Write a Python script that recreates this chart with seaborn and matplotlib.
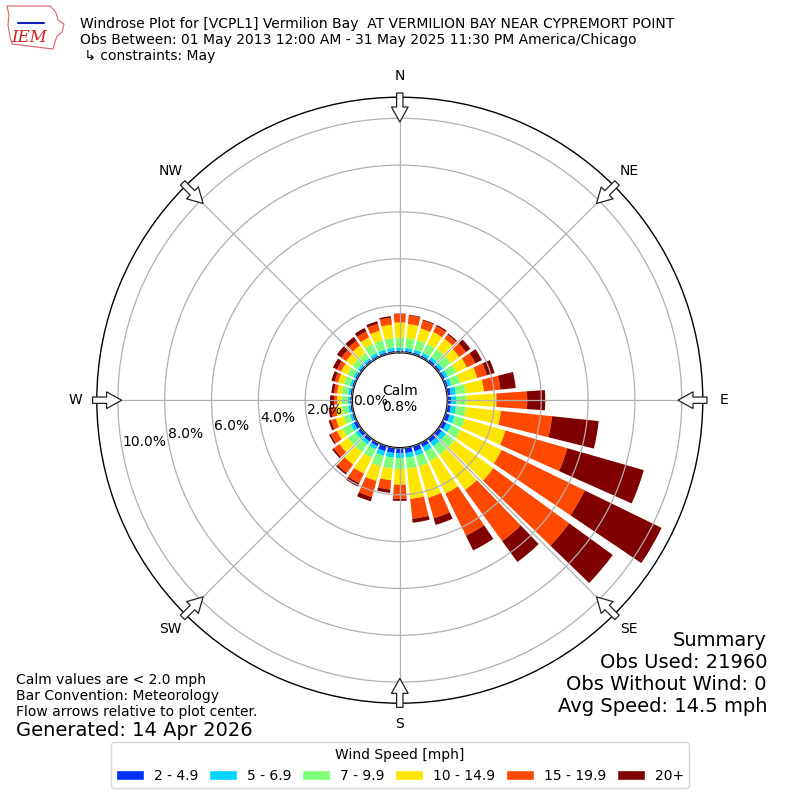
import numpy as np
import matplotlib
matplotlib.use('Agg')
import matplotlib.pyplot as plt
import seaborn as sns
from matplotlib.patches import Patch, Polygon
from matplotlib.lines import Line2D

# Wind directions (deg, meteorological) and speed bins
directions = np.arange(0, 360, 10)
speed_bins = ['2 - 4.9', '5 - 6.9', '7 - 9.9', '10 - 14.9', '15 - 19.9', '20+']
bin_colors = ['#0030ff', '#00d4ff', '#7dff7a', '#ffe600', '#ff4800', '#800000']

pct_2_5 = [0.08, 0.08, 0.08, 0.08, 0.10, 0.10, 0.10, 0.10, 0.15, 0.15, 0.15, 0.18,
           0.18, 0.18, 0.18, 0.18, 0.23, 0.23, 0.23, 0.23, 0.23, 0.15, 0.15, 0.15,
           0.15, 0.08, 0.08, 0.08, 0.08, 0.08, 0.08, 0.08, 0.08, 0.08, 0.08, 0.08]
pct_5_7 = [0.13, 0.13, 0.13, 0.13, 0.15, 0.15, 0.15, 0.15, 0.22, 0.22, 0.22, 0.22,
           0.22, 0.22, 0.22, 0.22, 0.20, 0.20, 0.20, 0.20, 0.20, 0.15, 0.15, 0.15,
           0.15, 0.10, 0.10, 0.10, 0.10, 0.10, 0.10, 0.10, 0.10, 0.13, 0.13, 0.13]
pct_7_10 = [0.42, 0.42, 0.42, 0.42, 0.40, 0.40, 0.40, 0.40, 0.43, 0.43, 0.43, 0.45,
            0.45, 0.45, 0.45, 0.45, 0.47, 0.47, 0.47, 0.47, 0.47, 0.40, 0.40, 0.40,
            0.40, 0.27, 0.27, 0.27, 0.27, 0.27, 0.27, 0.27, 0.27, 0.42, 0.42, 0.42]
pct_10_15 = [0.65, 0.60, 0.52, 0.57, 0.55, 0.45, 0.50, 0.75, 0.77, 1.29, 1.50, 1.80,
             1.95, 2.05, 1.85, 1.55, 1.40, 1.30, 0.67, 0.50, 0.65, 0.75, 0.65, 0.45,
             0.25, 0.35, 0.25, 0.19, 0.20, 0.25, 0.30, 0.35, 0.40, 0.32, 0.42, 0.57]
pct_15_20 = [0.36, 0.37, 0.35, 0.28, 0.22, 0.35, 0.40, 0.43, 0.71, 1.31, 2.20, 2.75,
             3.95, 4.00, 2.70, 2.00, 0.90, 0.85, 0.60, 0.40, 0.71, 0.45, 0.45, 0.30,
             0.30, 0.22, 0.20, 0.13, 0.13, 0.15, 0.20, 0.25, 0.25, 0.27, 0.30, 0.30]
pct_20p = [0.02, 0.03, 0.04, 0.06, 0.06, 0.24, 0.31, 0.34, 0.66, 0.77, 2.00, 3.40,
           3.65, 2.30, 1.10, 0.70, 0.30, 0.17, 0.09, 0.14, 0.19, 0.16, 0.08, 0.08,
           0.07, 0.10, 0.12, 0.17, 0.12, 0.15, 0.19, 0.23, 0.20, 0.17, 0.12, 0.07]
series = [pct_2_5, pct_5_7, pct_7_10, pct_10_15, pct_15_20, pct_20p]

r_ticks = [0, 2, 4, 6, 8, 10]
compass = ['N', 'NE', 'E', 'SE', 'S', 'SW', 'W', 'NW']
calm_pct = 0.8

title_lines = [
    'Windrose Plot for [VCPL1] Vermilion Bay  AT VERMILION BAY NEAR CYPREMORT POINT',
    'Obs Between: 01 May 2013 12:00 AM - 31 May 2025 11:30 PM America/Chicago',
    ' \u21b3 constraints: May',
]
notes = ['Calm values are < 2.0 mph', 'Bar Convention: Meteorology',
         'Flow arrows relative to plot center.']
summary = ['Summary', 'Obs Used: 21960', 'Obs Without Wind: 0', 'Avg Speed: 14.5 mph']

sns.set_style('white')
plt.rcParams['font.family'] = ['DejaVu Sans']
plt.rcParams['text.color'] = 'black'

fig = plt.figure(figsize=(8, 8), dpi=100)
ax = fig.add_axes([0.121, 0.121, 0.7575, 0.7575], projection='polar')
ax.set_theta_zero_location('N')
ax.set_theta_direction(-1)

theta = np.radians(directions)
bottom = np.zeros(len(directions))
for vals, col, lab in zip(series, bin_colors, speed_bins):
    ax.bar(theta, vals, width=np.radians(8), bottom=bottom, color=col,
           edgecolor='none', label=lab, zorder=1)
    bottom = bottom + np.array(vals)

ax.set_ylim(0, 10.9)
ax.set_rorigin(-2.04)
ax.set_yticks(r_ticks)
ax.set_yticklabels([])
ax.set_xticks(np.radians(np.arange(0, 360, 45)))
ax.set_xticklabels([])
ax.set_axisbelow(False)
ax.grid(True, color='#b0b0b0', lw=0.9)
ax.spines['polar'].set_color('black')
ax.spines['polar'].set_linewidth(1.0)
ax.spines['inner'].set_color('black')
ax.spines['inner'].set_linewidth(1.4)

for v in r_ticks:
    ax.text(np.radians(260), v, f'{v:.1f}%', ha='left', va='bottom', fontsize=10)

for i, name in enumerate(compass):
    th = np.radians(i * 45)
    ax.text(th, 11.8, name, ha='center', va='center', fontsize=10, clip_on=False)
    ax.annotate('', xy=(th, 9.84), xytext=(th, 11.08), annotation_clip=False,
                arrowprops=dict(arrowstyle='simple,head_length=0.9,head_width=1.0,tail_width=0.38',
                                fc='white', ec='#222222', lw=0.9, shrinkA=0, shrinkB=0,
                                mutation_scale=12), zorder=5)

fig.text(0.5, 0.501, f'Calm\n{calm_pct:.1f}%', ha='center', va='center', fontsize=10)

# header text and a rough IEM logo
for i, line in enumerate(title_lines):
    fig.text(80 / 800, 1 - (24 + 16 * i) / 800, line, fontsize=10, va='center')
outline_px = [(7, 6), (50, 6), (53, 9), (56, 13), (58, 20), (64, 24), (62, 32), (57, 36),
              (55, 42), (53, 49), (20, 45), (12, 44), (10, 36), (8, 25), (9, 15)]
fig.add_artist(Polygon([(x / 800, 1 - y / 800) for x, y in outline_px], closed=True,
                       fill=False, ec='#e06060', lw=0.8, transform=fig.transFigure))
fig.add_artist(Line2D([18 / 800, 44 / 800], [1 - 23 / 800, 1 - 23 / 800],
                      color='#1020c0', lw=1.5, transform=fig.transFigure))
fig.text(29 / 800, 1 - 38 / 800, 'IEM', color='#d02020', fontsize=12,
         family='serif', style='italic', ha='center', va='center')

for i, line in enumerate(notes):
    fig.text(16 / 800, 1 - (680 + 16 * i) / 800, line, fontsize=10, va='center')
fig.text(16 / 800, 1 - 730 / 800, 'Generated: 14 Apr 2026', fontsize=14, va='center')

for i, line in enumerate(summary):
    fig.text(767 / 800, 1 - (640 + 22 * i) / 800, line, fontsize=14, ha='right', va='center')

handles = [Patch(facecolor=c, label=l) for c, l in zip(bin_colors, speed_bins)]
fig.legend(handles=handles, ncol=6, loc='lower center', bbox_to_anchor=(0.5, 0.006),
           title='Wind Speed [mph]', fontsize=10, title_fontsize=10, frameon=True,
           handlelength=2.0, handleheight=0.7, columnspacing=0.8, handletextpad=0.7)

fig.savefig('out.png', dpi=100)
plt.close(fig)
